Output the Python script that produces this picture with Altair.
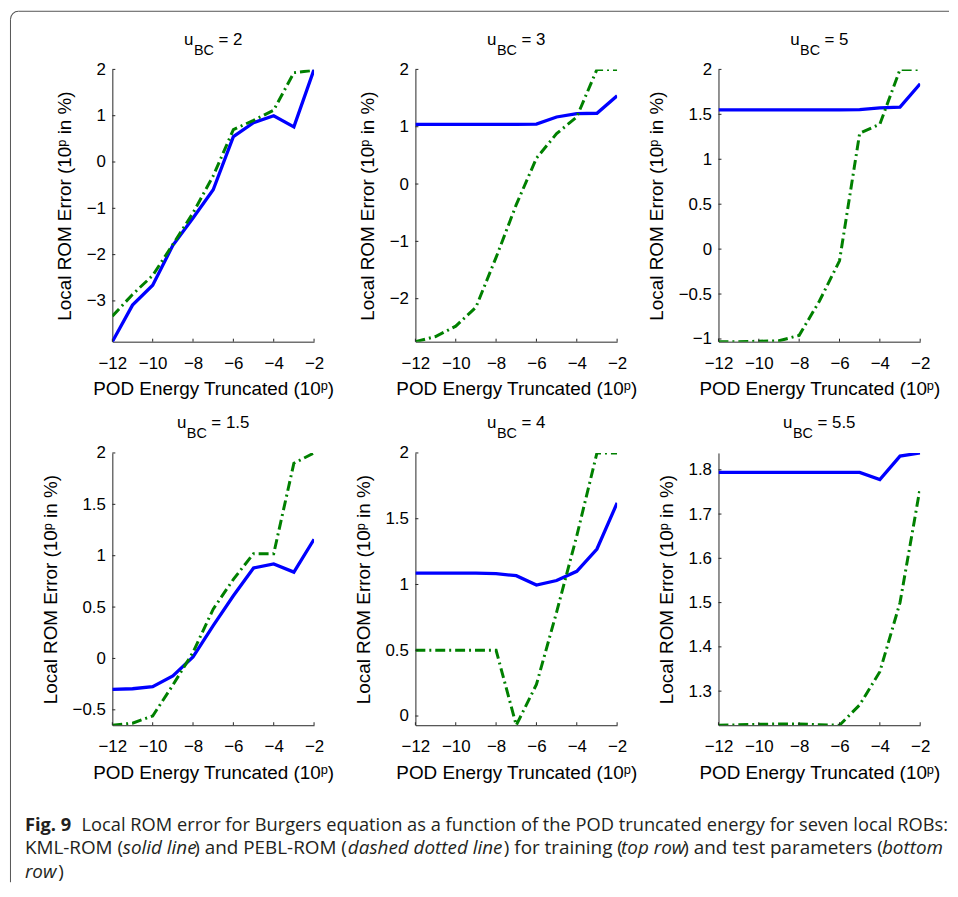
import altair as alt
import pandas as pd

# ---------------- data ----------------
energy_exp = [-12, -11, -10, -9, -8, -7, -6, -5, -4, -3, -2]
x_ticks = [-12, -10, -8, -6, -4, -2]

u_bc = ["2", "3", "5", "1.5", "4", "5.5"]

kml_u2 = [-3.88, -3.09, -2.66, -1.80, -1.21, -0.60, 0.55, 0.85, 1.00, 0.76, 2.00]
kml_u3 = [1.04, 1.04, 1.04, 1.04, 1.04, 1.04, 1.045, 1.17, 1.23, 1.235, 1.54]
kml_u5 = [1.55, 1.55, 1.55, 1.55, 1.55, 1.55, 1.55, 1.553, 1.573, 1.58, 1.84]
kml_u15 = [-0.30, -0.295, -0.275, -0.17, 0.015, 0.32, 0.61, 0.88, 0.92, 0.84, 1.16]
kml_u4 = [1.087, 1.087, 1.087, 1.086, 1.083, 1.067, 0.996, 1.03, 1.10, 1.27, 1.62]
kml_u55 = [1.794, 1.794, 1.794, 1.794, 1.794, 1.794, 1.794, 1.794, 1.778, 1.831, 1.838]

pebl_u2 = [-3.33, -2.86, -2.45, -1.78, -1.10, -0.30, 0.70, 0.90, 1.12, 1.93, 1.98]
pebl_u3 = [-2.75, -2.66, -2.48, -2.15, -1.28, -0.36, 0.45, 0.88, 1.17, 2.00, 2.00]
pebl_u5 = [-1.03, -1.03, -1.025, -1.02, -0.96, -0.58, -0.13, 1.29, 1.39, 2.00, 2.00]
pebl_u15 = [-0.65, -0.63, -0.56, -0.26, 0.06, 0.48, 0.77, 1.02, 1.02, 1.90, 2.00]
pebl_u4 = [0.50, 0.50, 0.50, 0.50, 0.50, -0.07, 0.24, 0.79, 1.37, 2.00, 2.00]
pebl_u55 = [1.223, 1.224, 1.225, 1.226, 1.226, 1.224, 1.223, 1.269, 1.344, 1.50, 1.760]

kml_rom = [kml_u2, kml_u3, kml_u5, kml_u15, kml_u4, kml_u55]
pebl_rom = [pebl_u2, pebl_u3, pebl_u5, pebl_u15, pebl_u4, pebl_u55]

y_ticks = [
    [-3, -2, -1, 0, 1, 2],
    [-2, -1, 0, 1, 2],
    [-1, -0.5, 0, 0.5, 1, 1.5, 2],
    [-0.5, 0, 0.5, 1, 1.5, 2],
    [0, 0.5, 1, 1.5, 2],
    [1.3, 1.4, 1.5, 1.6, 1.7, 1.8],
]

x_title = "POD Energy Truncated (10\u1d56)"
y_title = "Local ROM Error (10\u1d56 in %)"

# caption segments: (text, weight, style, page x of segment start, font size)
caption_lines = [
    [("Fig. 9", "bold", "normal", 25, 18.4),
     ("Local ROM error for Burgers equation as a function of the POD truncated energy for seven local ROBs:", "normal", "normal", 82, 18.4)],
    [("KML-ROM (", "normal", "normal", 25, 19.0),
     ("solid line", "normal", "italic", 123.5, 19.0),
     (") and PEBL-ROM (", "normal", "normal", 195.5, 19.0),
     ("dashed dotted line", "normal", "italic", 350, 19.0),
     (") for training (", "normal", "normal", 507, 19.0),
     ("top row", "normal", "italic", 625, 19.0),
     (") and test parameters (", "normal", "normal", 687.5, 19.0),
     ("bottom", "normal", "italic", 887.5, 19.0)],
    [("row", "normal", "italic", 25, 19.0),
     (")", "normal", "normal", 58.5, 19.0)],
]
caption_baselines = [833, 857, 881]

# ---------------- styling ----------------
W, H = 203, 274
FONT = "Liberation Sans"
CAP_FONT = "Open Sans"
AX = "#262626"
BLUE = "#0000ff"
GREEN = "#008000"
P1_LEFT, P1_TOP = 113, 67  # page position of the first plot area
TITLE_SIZE = 17
SUB_SIZE = 14.5

EM = {"u": 0.556, "B": 0.667, "C": 0.722, "=": 0.584, " ": 0.278, ".": 0.278}


def text_w(s, size):
    return sum(EM.get(c, 0.556) for c in s) * size


one = pd.DataFrame({"a": [0]})


def text_layer(txt, x, y, size, weight="normal", style="normal", font=FONT,
               color="black", align="left"):
    return alt.Chart(one).mark_text(
        text=txt, font=font, fontSize=size, fontWeight=weight, fontStyle=style,
        color=color, align=align, baseline="alphabetic"
    ).encode(x=alt.value(x), y=alt.value(y))


def panel(i):
    kml = kml_rom[i]
    pebl = pebl_rom[i]
    lo = min(kml + pebl)
    hi = max(kml + pebl)
    df = pd.DataFrame({
        "p": energy_exp * 2,
        "err": kml + pebl,
        "method": ["KML-ROM"] * len(kml) + ["PEBL-ROM"] * len(pebl),
    })
    xenc = alt.X("p:Q", scale=alt.Scale(domain=[-12, -2], nice=False, zero=False),
                 axis=alt.Axis(values=x_ticks, title=x_title))
    yenc = alt.Y("err:Q", scale=alt.Scale(domain=[lo, hi], nice=False, zero=False),
                 axis=alt.Axis(values=y_ticks[i], format="~g", title=y_title))

    base = alt.Chart(df)
    blue = base.transform_filter(alt.datum.method == "KML-ROM").mark_line(
        color=BLUE, strokeWidth=3.3, clip=True, strokeJoin="miter"
    ).encode(x=xenc, y=yenc)
    green = base.transform_filter(alt.datum.method == "PEBL-ROM").mark_line(
        color=GREEN, strokeWidth=3.0, clip=True, strokeDash=[10, 4, 2, 4], strokeCap="butt"
    ).encode(x=xenc, y=yenc)

    xt = alt.Chart(pd.DataFrame({"p": x_ticks})).mark_rule(color=AX, strokeWidth=1).encode(
        x=xenc, y=alt.value(H), y2=alt.value(H - 3))
    yt = alt.Chart(pd.DataFrame({"err": y_ticks[i]})).mark_rule(color=AX, strokeWidth=1).encode(
        y=yenc, x=alt.value(0), x2=alt.value(3))

    # title u_BC = value
    val = "= " + u_bc[i]
    wu = text_w("u", TITLE_SIZE)
    wbc = text_w("BC", SUB_SIZE)
    total = wu + wbc + 5 + text_w(val, TITLE_SIZE)
    x0 = W / 2 - total / 2
    t_u = text_layer("u", x0, -25, TITLE_SIZE)
    t_bc = text_layer("BC", x0 + wu + 0.5, -15, SUB_SIZE)
    t_val = text_layer(val, x0 + wu + wbc + 5, -25, TITLE_SIZE)

    layers = [blue, green, xt, yt, t_u, t_bc, t_val]

    if i == 0:
        # outer frame (top and left edges with a rounded corner)
        fl, ft, r = 10.5 - P1_LEFT, 8.5 - P1_TOP, 8
        frame_col = "#555555"
        top = alt.Chart(one).mark_rule(color=frame_col, strokeWidth=1).encode(
            x=alt.value(fl + r), x2=alt.value(955 - P1_LEFT), y=alt.value(ft))
        left = alt.Chart(one).mark_rule(color=frame_col, strokeWidth=1).encode(
            x=alt.value(fl), y=alt.value(ft + r), y2=alt.value(885 - P1_TOP))
        corner = alt.Chart(one).mark_arc(color=frame_col).encode(
            x=alt.value(fl + r), y=alt.value(ft + r),
            theta=alt.value(4.712389), theta2=alt.value(6.283185),
            radius=alt.value(r + 0.5), radius2=alt.value(r - 0.5))
        layers += [top, left, corner]
        for line, yb in zip(caption_lines, caption_baselines):
            for txt, weight, style, xp, size in line:
                layers.append(text_layer(txt, xp - P1_LEFT, yb - P1_TOP, size,
                                         weight=weight, style=style, font=CAP_FONT,
                                         color="#231f20"))

    return alt.layer(*layers).properties(width=W, height=H)


chart = alt.concat(
    *[panel(i) for i in range(6)],
    columns=3,
    spacing={"row": 112, "column": 102},
    bounds="flush",
).properties(
    padding={"left": 2, "top": 0, "right": 0, "bottom": 0}
).configure_view(
    stroke=None
).configure_axis(
    domainColor=AX, domainWidth=1, grid=False, ticks=False, tickSize=0,
    labelFont=FONT, labelFontSize=17, labelColor="black",
    titleFont=FONT, titleFontSize=19, titleFontWeight="normal", titleColor="black",
    labelFlush=False, labelOverlap=False,
).configure_axisX(
    labelPadding=13.5, titlePadding=9
).configure_axisY(
    labelPadding=7, titlePadding=12
)

chart.save("out.html", embed_options={"renderer": "svg", "actions": False})
